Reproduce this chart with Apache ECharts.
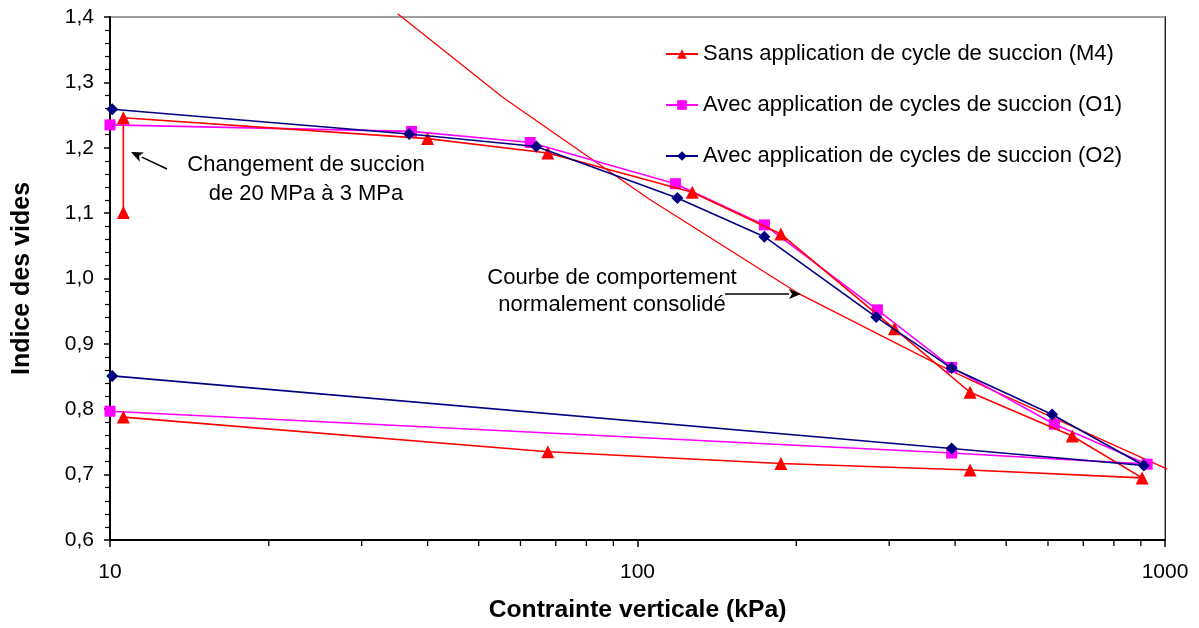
<!DOCTYPE html>
<html>
<head>
<meta charset="utf-8">
<script src="https://cdn.jsdelivr.net/npm/echarts@6/dist/echarts.min.js"></script>
<style>html,body{margin:0;padding:0;background:#fff;}#c{width:1199px;height:628px;}</style>
</head>
<body>
<div id="c"></div>
<script>
// ---- data ----
const xTickValues = [10, 100, 1000];
const xMinorTicks = [20, 30, 40, 50, 60, 70, 80, 90, 200, 300, 400, 500, 600, 700, 800, 900];

const m4Name = 'Sans application de cycle de succion (M4)';
const m4X = [10.6, 10.6, 40, 67.6, 127, 187, 307, 427, 667, 905, 427, 187, 67.6, 10.6];
const m4Y = [1.101, 1.246, 1.214, 1.192, 1.132, 1.068, 0.923, 0.826, 0.759, 0.695, 0.707, 0.717, 0.735, 0.788];

const o1Name = 'Avec application de cycles de succion (O1)';
const o1X = [10, 37.3, 62.6, 118, 174, 285, 394, 617, 925, 394, 10];
const o1Y = [1.235, 1.225, 1.208, 1.145, 1.082, 0.952, 0.864, 0.777, 0.716, 0.733, 0.797];

const o2Name = 'Avec application de cycles de succion (O2)';
const o2X = [10.1, 36.9, 64.3, 119, 174, 283.5, 394, 611, 912, 394, 10.1];
const o2Y = [1.259, 1.221, 1.202, 1.123, 1.064, 0.941, 0.863, 0.792, 0.714, 0.740, 0.851];

const ncX = [35.1, 55.6, 105, 203, 374, 486, 1012];
const ncY = [1.405, 1.277, 1.122, 0.976, 0.867, 0.824, 0.708];

const annot1 = ['Changement de succion', 'de 20 MPa à 3 MPa'];
const annot2 = ['Courbe de comportement', 'normalement consolidé'];

const FONT = '"Liberation Sans", Arial, Helvetica, sans-serif';
const zip = (xs, ys) => xs.map((x, i) => [x, ys[i]]);

const chart = echarts.init(document.getElementById('c'), null, {renderer: 'canvas'});

const option = {
  animation: false,
  backgroundColor: '#ffffff',
  textStyle: {fontFamily: FONT},
  grid: {left: 110, right: 34, top: 17, bottom: 86, show: true, borderColor: '#808080', borderWidth: 1.5, backgroundColor: 'transparent'},
  legend: {
    orient: 'vertical', left: 660, top: 38, itemWidth: 32, itemHeight: 12, itemGap: 29,
    textStyle: {fontFamily: FONT, fontSize: 22, color: '#000'},
    data: [m4Name, o1Name, o2Name]
  },
  xAxis: {
    type: 'log', logBase: 10, min: 10, max: 1000,
    name: 'Contrainte verticale (kPa)', nameLocation: 'middle', nameGap: 58,
    nameTextStyle: {fontFamily: FONT, fontSize: 24.7, fontWeight: 'bold', color: '#000'},
    axisLine: {show: true, onZero: false, lineStyle: {color: '#000', width: 2}},
    axisTick: {show: true, length: 7, lineStyle: {color: '#000', width: 1.5}},
    axisLabel: {fontFamily: FONT, fontSize: 21, color: '#000', margin: 22,
      formatter: v => (xTickValues.indexOf(Math.round(v)) >= 0 ? String(Math.round(v)) : '')},
    splitLine: {show: false}, minorTick: {show: false}
  },
  yAxis: [{
    type: 'value', min: 0.6, max: 1.4, interval: 0.1,
    name: 'Indice des vides', nameLocation: 'middle', nameGap: 75, nameRotate: 90,
    nameTextStyle: {fontFamily: FONT, fontSize: 25, fontWeight: 'bold', color: '#000'},
    axisLine: {show: true, onZero: false, lineStyle: {color: '#000', width: 2}},
    axisTick: {show: true, length: 6, lineStyle: {color: '#000', width: 1.5}},
    minorTick: {show: true, splitNumber: 5, length: 5, lineStyle: {color: '#000', width: 1.2}},
    axisLabel: {fontFamily: FONT, fontSize: 21, color: '#000', margin: 16,
      formatter: v => v.toFixed(1).replace('.', ',')},
    splitLine: {show: false}
  }, {
    type: 'value', min: 0.6, max: 1.4, position: 'right',
    axisLine: {show: true, onZero: false, lineStyle: {color: '#222', width: 1}},
    axisTick: {show: false}, axisLabel: {show: false}, splitLine: {show: false}
  }],
  series: [
    {
      name: 'NC', type: 'line', data: zip(ncX, ncY), showSymbol: false, symbol: 'none',
      clip: false, lineStyle: {color: '#ff0000', width: 1.3}, z: 1, legendHoverLink: false
    },
    {
      name: m4Name, type: 'line', data: zip(m4X, m4Y), symbol: 'triangle', symbolSize: 13,
      itemStyle: {color: '#ff0000'}, lineStyle: {color: '#ff0000', width: 1.6}, z: 3
    },
    {
      name: o1Name, type: 'line', data: zip(o1X, o1Y), symbol: 'rect', symbolSize: 11,
      itemStyle: {color: '#ff00ff'}, lineStyle: {color: '#ff00ff', width: 1.6}, z: 2
    },
    {
      name: o2Name, type: 'line', data: zip(o2X, o2Y), symbol: 'diamond', symbolSize: 12,
      itemStyle: {color: '#000080'}, lineStyle: {color: '#000080', width: 1.6}, z: 4
    }
  ]
};
chart.setOption(option);

// minor ticks on log x axis + annotations
const yBottom = chart.convertToPixel({yAxisIndex: 0}, 0.6);
const gfx = [];
xMinorTicks.forEach(v => {
  const px = chart.convertToPixel({xAxisIndex: 0}, v);
  gfx.push({type: 'line', shape: {x1: px, y1: yBottom, x2: px, y2: yBottom + 6},
    style: {stroke: '#000', lineWidth: 1.3}, silent: true});
});
function arrow(x1, y1, x2, y2) {
  const ang = Math.atan2(y2 - y1, x2 - x1), L = 12, W = 5;
  const bx = x2 - L * Math.cos(ang), by = y2 - L * Math.sin(ang);
  const nx = -Math.sin(ang), ny = Math.cos(ang);
  gfx.push({type: 'line', shape: {x1: x1, y1: y1, x2: bx, y2: by}, style: {stroke: '#000', lineWidth: 1.6}, silent: true, z: 10});
  gfx.push({type: 'polygon', shape: {points: [[x2, y2], [bx + nx * W, by + ny * W], [bx + 3 * Math.cos(ang), by + 3 * Math.sin(ang)], [bx - nx * W, by - ny * W]]},
    style: {fill: '#000'}, silent: true, z: 10});
}
arrow(167, 169, 131, 152);
arrow(725, 294, 801, 294);
const txt = (t, x, y) => gfx.push({type: 'text', x: x, y: y, z: 9, silent: true,
  style: {text: t, fontFamily: FONT, fontSize: 22, fill: '#000', align: 'center', verticalAlign: 'middle'}});
txt(annot1[0], 306, 165);
txt(annot1[1], 306, 194);
txt(annot2[0], 612, 278);
txt(annot2[1], 612, 305);
chart.setOption({graphic: gfx});
</script>
</body>
</html>
